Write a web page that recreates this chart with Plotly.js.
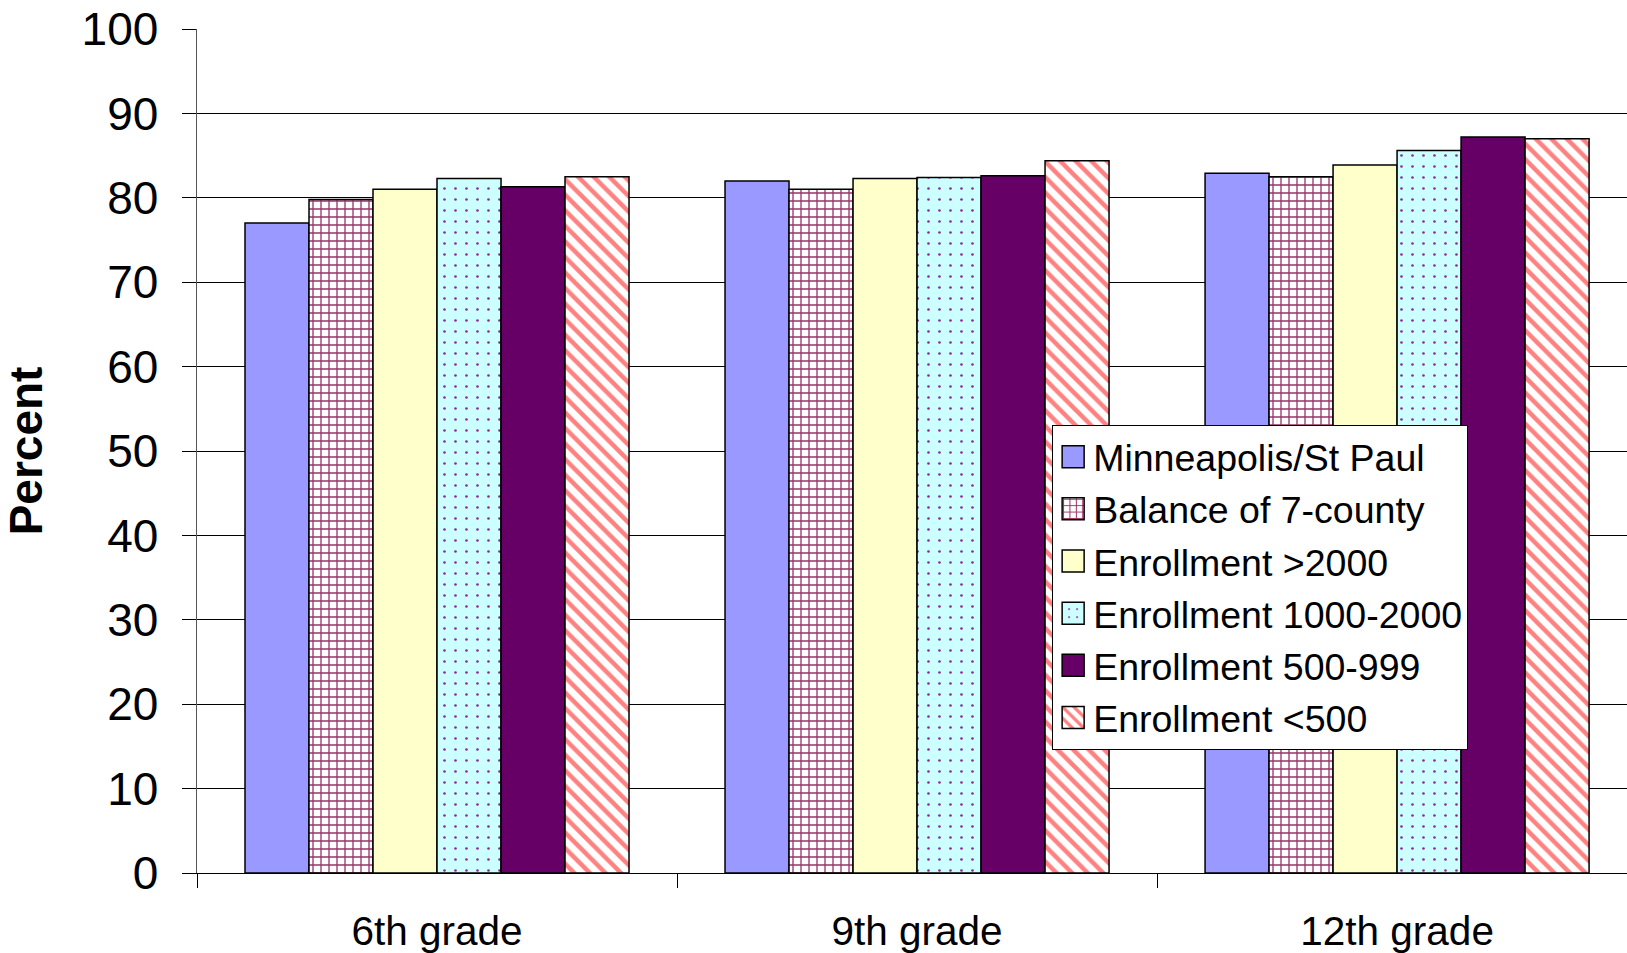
<!DOCTYPE html>
<html>
<head>
<meta charset="utf-8">
<script src="https://cdn.plot.ly/plotly-3.0.1.min.js"></script>
<style>html,body{margin:0;padding:0;background:#fff;}#chart{width:1627px;height:953px;}</style>
</head>
<body>
<div id="chart"></div>
<script>
const grades = ["6th grade", "9th grade", "12th grade"];
const seriesNames = ["Minneapolis/St Paul", "Balance of 7-county", "Enrollment >2000", "Enrollment 1000-2000", "Enrollment 500-999", "Enrollment <500"];
const minneapolis = [77.0, 82.0, 82.9];
const balance7 = [79.8, 81.0, 82.5];
const enrGt2000 = [81.0, 82.3, 83.9];
const enr1000to2000 = [82.3, 82.4, 85.6];
const enr500to999 = [81.3, 82.6, 87.2];
const enrLt500 = [82.5, 84.4, 87.0];
const yTicks = [0, 10, 20, 30, 40, 50, 60, 70, 80, 90, 100];

const values = [minneapolis, balance7, enrGt2000, enr1000to2000, enr500to999, enrLt500];
const styles = [
  {color: "#9999FF"},
  {color: "#FFFFFF", pattern: {shape: "+", fgcolor: "#993366", bgcolor: "#FFFFFF", size: 8, solidity: 0.3}},
  {color: "#FFFFCC"},
  {color: "#CCFFFF", pattern: {shape: ".", fgcolor: "#8A2A9A", bgcolor: "#CCFFFF", size: 11, solidity: 0.045}},
  {color: "#660066"},
  {color: "#FFFFFF", pattern: {shape: "\\", fgcolor: "#FF8080", bgcolor: "#FFFFFF", size: 11, solidity: 0.4}}
];

const FONT = "Liberation Sans, Arial, Helvetica, sans-serif";

const traces = seriesNames.map((name, i) => ({
  type: "bar",
  name: name,
  x: grades,
  y: values[i],
  legendgroup: "g" + i,
  marker: Object.assign({line: {color: "#000000", width: 1.5}}, styles[i]),
  hoverinfo: "x+y+name"
}));

const layout = {
  width: 1627,
  height: 953,
  paper_bgcolor: "#FFFFFF",
  plot_bgcolor: "#FFFFFF",
  margin: {l: 197, r: 0, t: 29, b: 80, autoexpand: false},
  barmode: "group",
  bargap: 0.2,
  bargroupgap: 0,
  font: {family: FONT, color: "#000000"},
  showlegend: true,
  legend: {
    x: 0.598, y: 0.531, xanchor: "left", yanchor: "top",
    bgcolor: "#FFFFFF", bordercolor: "#000000", borderwidth: 1,
    font: {family: FONT, size: 37.5, color: "#000000"},
    traceorder: "grouped", tracegroupgap: 0.4
  },
  xaxis: {
    type: "category",
    range: [-0.5, 2.479],
    tickson: "boundaries",
    ticks: "outside", ticklen: 14, tickcolor: "#000000", tickwidth: 1,
    showline: true, linecolor: "#000000", linewidth: 1,
    showgrid: false, zeroline: false,
    tickfont: {family: FONT, size: 40.5, color: "#000000"},
    ticklabelstandoff: 22
  },
  yaxis: {
    range: [0, 100],
    tickvals: yTicks,
    ticktext: yTicks.map(String),
    ticks: "outside", ticklen: 14, tickcolor: "#000000", tickwidth: 1,
    showline: true, linecolor: "#555555", linewidth: 1.5,
    showgrid: true, gridcolor: "#000000", gridwidth: 1,
    zeroline: false,
    tickfont: {family: FONT, size: 46, color: "#000000"},
    ticklabelstandoff: 14,
    title: {text: "<b>Percent</b>", font: {family: FONT, size: 46, color: "#000000"}, standoff: 30}
  }
};

const gd = document.getElementById("chart");
function bigSwatches() {
  gd.querySelectorAll(".legend .legendpoints path").forEach(p => p.setAttribute("d", "M11,11H-11V-11H11Z"));
}
Plotly.newPlot(gd, traces, layout, {displayModeBar: false, staticPlot: true}).then(() => {
  bigSwatches();
  gd.on("plotly_afterplot", bigSwatches);
});
</script>
</body>
</html>
